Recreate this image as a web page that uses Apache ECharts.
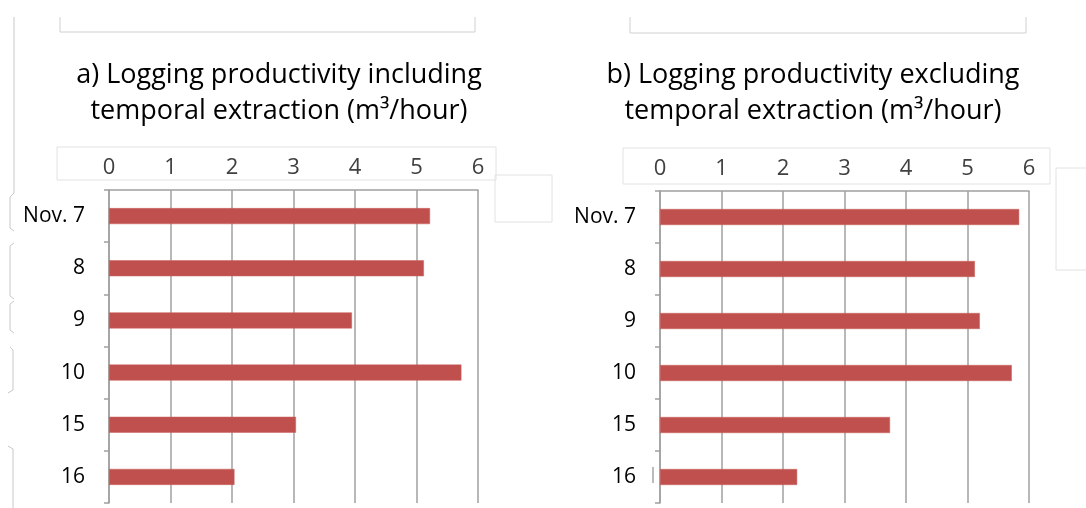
<!DOCTYPE html>
<html>
<head>
<meta charset="utf-8">
<script src="https://cdn.jsdelivr.net/npm/echarts@6/dist/echarts.min.js"></script>
<style>
html,body{margin:0;padding:0;background:#fff;}
#chart{width:1086px;height:508px;}
</style>
</head>
<body>
<div id="chart"></div>
<script>
const categories = ['Nov. 7', '8', '9', '10', '15', '16'];
const includingTemporal = [5.22, 5.12, 3.95, 5.73, 3.04, 2.04];
const excludingTemporal = [5.84, 5.12, 5.20, 5.72, 3.74, 2.23];
const titleA = 'a) Logging productivity including\ntemporal extraction (m³/hour)';
const titleB = 'b) Logging productivity excluding\ntemporal extraction (m³/hour)';
const xMin = 0, xMax = 6, xStep = 1;

const FONT = '"Open Sans", "Noto Sans", sans-serif';
const gridColor = '#a0a0a0';
const barColor = '#C0504D';
const artColor = '#d4d4d4';

function xAxisFor(i) {
  return {
    type: 'value', gridIndex: i, position: 'top',
    min: xMin, max: xMax, interval: xStep,
    axisLine: { show: true, lineStyle: { color: gridColor, width: 1.5 } },
    axisTick: { show: false },
    axisLabel: { fontFamily: FONT, fontSize: 22, color: '#404040', margin: 11 },
    splitLine: { show: true, lineStyle: { color: gridColor, width: 1.5 } }
  };
}
function yAxisFor(i) {
  return {
    type: 'category', gridIndex: i, data: categories, inverse: true,
    axisLine: { show: true, lineStyle: { color: gridColor, width: 1.5 } },
    axisTick: { show: true, length: 5, lineStyle: { color: gridColor, width: 1.5 } },
    axisLabel: { fontFamily: FONT, fontSize: 21, color: '#000', margin: 24 }
  };
}
function seriesFor(i, data) {
  return {
    type: 'bar', xAxisIndex: i, yAxisIndex: i, data: data,
    barWidth: 16,
    itemStyle: { color: barColor, borderColor: '#c9605d', borderWidth: 0.5 },
    silent: true
  };
}
function line(x1, y1, x2, y2, color) {
  return { type: 'line', shape: { x1, y1, x2, y2 }, style: { stroke: color || artColor, lineWidth: 1 }, silent: true };
}
function poly(points, color) {
  return { type: 'polyline', shape: { points }, style: { stroke: color || artColor, lineWidth: 1, fill: null }, silent: true };
}
function rect(x, y, w, h) {
  return { type: 'rect', shape: { x, y, width: w, height: h }, style: { stroke: '#e2e2e2', lineWidth: 1, fill: null }, silent: true, z: -1 };
}

const chart = echarts.init(document.getElementById('chart'), null, { renderer: 'canvas' });
chart.setOption({
  backgroundColor: '#fff',
  animation: false,
  title: [
    { text: titleA, left: 279, top: 57, textAlign: 'center', padding: 0,
      textStyle: { fontFamily: FONT, fontSize: 27, fontWeight: 'normal', color: '#000', lineHeight: 36 } },
    { text: titleB, left: 813, top: 57, textAlign: 'center', padding: 0,
      textStyle: { fontFamily: FONT, fontSize: 27, fontWeight: 'normal', color: '#000', lineHeight: 36 } }
  ],
  grid: [
    { left: 109, top: 190, width: 369, height: 313, containLabel: false },
    { left: 660, top: 191, width: 369, height: 312, containLabel: false }
  ],
  xAxis: [xAxisFor(0), xAxisFor(1)],
  yAxis: [yAxisFor(0), yAxisFor(1)],
  series: [seriesFor(0, includingTemporal), seriesFor(1, excludingTemporal)],
  graphic: [
    // stray frames from the source screenshot
    poly([[60, 17], [60, 32], [475, 32], [475, 17]], '#d0d0d0'),
    poly([[630, 17], [630, 33], [1026, 33], [1026, 17]], '#d0d0d0'),
    rect(57, 147, 439, 33),
    rect(495, 175, 57, 47),
    rect(623, 148, 427, 36),
    rect(1056, 168, 40, 102),
    poly([[14, 17], [14, 193], [10, 197], [10, 228], [14, 231]], '#c8c8c8'),
    poly([[14, 243], [10, 246], [10, 296], [14, 299]], '#c8c8c8'),
    poly([[14, 301], [10, 304], [10, 330], [14, 333]], '#c8c8c8'),
    poly([[10, 347], [13, 350], [13, 390], [8, 393]], '#c8c8c8'),
    poly([[8, 446], [13, 449], [13, 508]], '#c8c8c8'),
    line(653, 467, 653, 483, '#777')
  ]
});
</script>
</body>
</html>
